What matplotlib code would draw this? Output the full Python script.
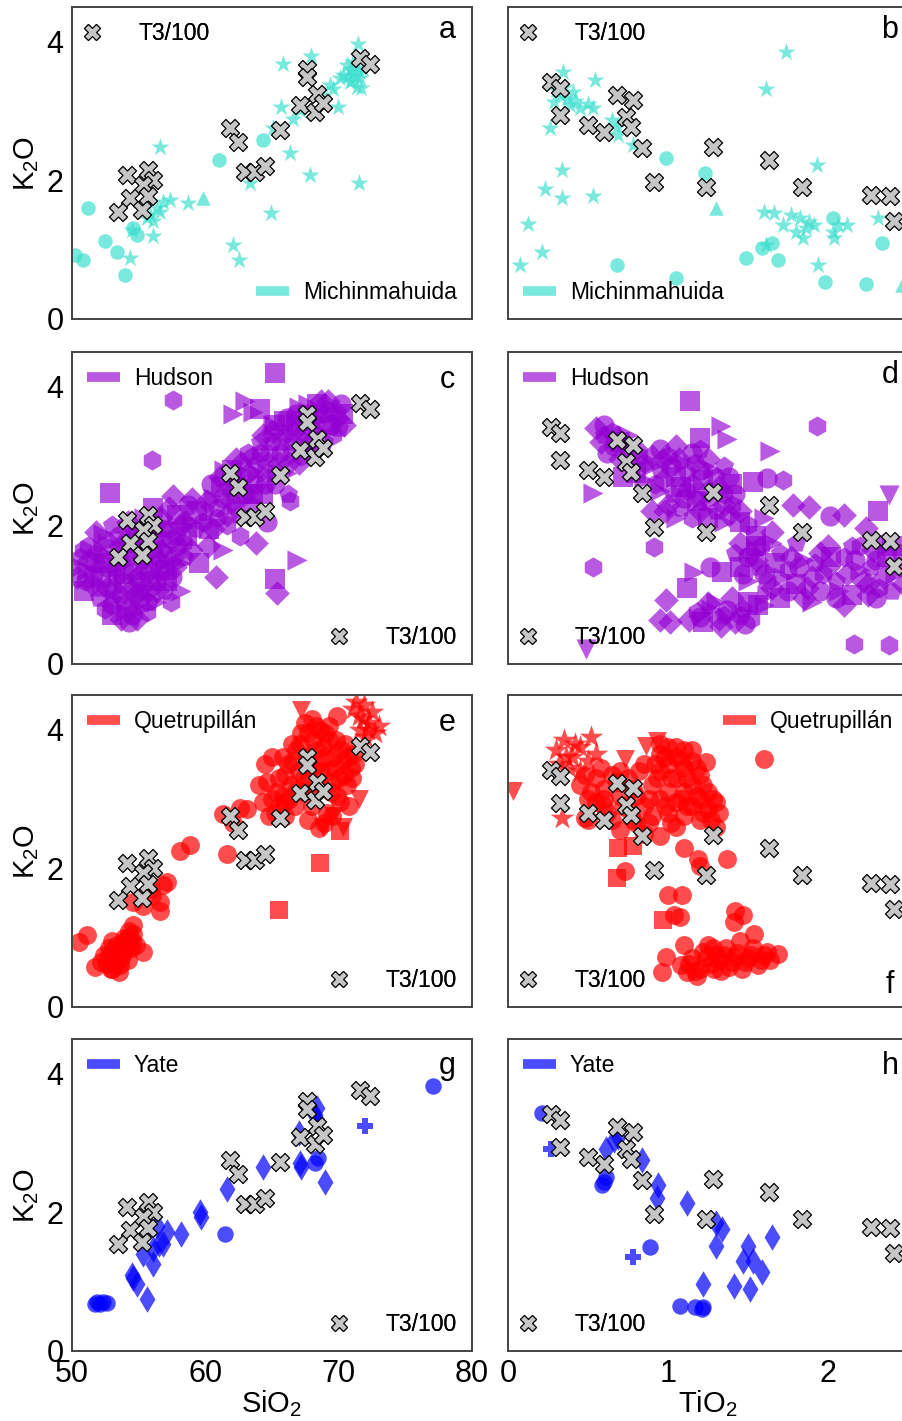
import numpy as np
import matplotlib.pyplot as plt
from matplotlib.lines import Line2D

plt.rcParams['font.family'] = ['Liberation Sans', 'DejaVu Sans']

# ---- T3/100 (gray X markers, repeated in every panel) ----
t3_sio2 = [54.1, 55.73, 56.1, 55.35, 54.35, 55.73, 53.48, 55.23, 61.85, 62.48, 62.98,
           63.73, 64.48, 65.6, 67.6, 67.6, 68.35, 67.1, 68.23, 68.85, 71.6, 72.35]
t3_k2o_si = [2.08, 2.15, 2.0, 1.93, 1.74, 1.77, 1.55, 1.57, 2.75, 2.56, 2.12,
             2.12, 2.2, 2.72, 3.61, 3.49, 3.25, 3.08, 2.99, 3.11, 3.76, 3.68]
t3_tio2 = [0.27, 0.325, 0.325, 0.50, 0.60, 0.68, 0.78, 0.74, 0.77, 0.835, 0.91,
           1.28, 1.24, 1.63, 1.835, 2.27, 2.39, 2.41]
t3_k2o_ti = [3.42, 3.33, 2.94, 2.80, 2.70, 3.23, 3.16, 2.92, 2.77, 2.46, 1.98,
             2.48, 1.91, 2.29, 1.91, 1.79, 1.77, 1.41]

# ---- Michinmahuida ----
mich_sio2 = [50.2, 50.85, 51.2, 52.5, 53.35, 54.0, 54.85, 54.6, 61.0, 64.35,
             59.85,
             56.6, 54.35, 56.1, 54.5, 55.85, 56.35, 56.85, 57.35, 56.1, 56.6,
             55.6, 58.7, 62.1, 62.55, 63.35, 64.95, 66.35, 67.85, 71.5, 65.7,
             65.1, 66.6, 65.85, 67.95, 69.95, 69.35, 70.1, 71.45, 70.6, 71.1,
             70.85, 71.6, 71.35, 71.85, 71.1, 70.35, 71.7, 69.6, 68.6, 67.1,
             70.9, 71.3, 71.0, 71.5, 70.7]
mich_k2o_si = [0.93, 0.85, 1.60, 1.12, 0.97, 0.64, 1.21, 1.31, 2.29, 2.58,
               1.75,
               2.48, 0.88, 1.19, 1.29, 1.50, 1.60, 1.69, 1.72, 1.41, 1.55,
               1.45, 1.67, 1.07, 0.85, 1.96, 1.53, 2.39, 2.08, 1.96, 3.06,
               2.75, 2.89, 3.68, 3.80, 3.06, 3.37, 3.47, 3.97, 3.66, 3.56,
               3.42, 3.47, 3.35, 3.61, 3.71, 3.52, 3.33, 3.32, 3.23, 3.01,
               3.60, 3.50, 3.45, 3.58, 3.50]
mich_mk_si = 'o' * 10 + '^' + '*' * 45

mich_tio2 = [0.99, 1.23, 0.68, 1.05, 1.49, 1.585, 1.65, 1.69, 1.98, 2.03, 2.24, 2.335,
             1.30, 2.46,
             0.346, 0.325, 0.367, 0.408, 0.388, 0.45, 0.29, 0.30, 0.35, 0.42,
             0.544, 0.533, 0.50, 0.68, 0.69, 0.648, 0.78, 0.26, 0.335, 0.23,
             0.335, 0.533, 0.127, 0.21, 0.075, 1.74, 1.61, 1.93, 1.60, 1.66,
             1.72, 1.77, 1.825, 1.86, 1.91, 1.845, 2.03, 2.04, 2.12, 1.94,
             2.31, 1.61, 1.88, 1.80, 2.06]
mich_k2o_ti = [2.32, 2.10, 0.78, 0.59, 0.88, 1.02, 1.09, 0.85, 0.54, 1.45, 0.50, 1.09,
               1.60, 0.49,
               3.56, 3.23, 3.18, 3.28, 3.08, 3.04, 3.13, 3.30, 3.35, 3.15,
               3.44, 3.04, 3.10, 2.77, 2.65, 2.87, 2.51, 2.75, 2.15, 1.88,
               1.74, 1.78, 1.37, 0.96, 0.78, 3.85, 3.32, 2.22, 1.55, 1.53,
               1.36, 1.50, 1.45, 1.31, 1.36, 1.17, 1.26, 1.17, 1.36, 0.78,
               1.45, 1.07, 1.40, 1.25, 1.35]
mich_mk_ti = 'o' * 12 + '^' * 2 + '*' * 45

# ---- Hudson (dense cloud + scattered outliers) ----
hud_sio2 = [50.4, 50.6, 50.9, 51.1, 51.2, 51.5, 51.7, 51.8, 52.0, 52.2, 52.3, 52.5, 52.6, 52.7,
            52.8, 53.0, 53.0, 53.2, 53.3, 53.4, 53.5, 53.7, 53.8, 53.9, 54.0, 54.1, 54.2, 54.3,
            54.4, 54.5, 54.6, 54.7, 54.8, 54.9, 55.0, 55.1, 55.2, 55.3, 55.4, 55.6, 55.7, 55.8,
            55.9, 56.0, 56.1, 56.3, 56.4, 56.5, 56.6, 56.7, 56.9, 57.0, 57.1, 57.2, 57.3, 57.5,
            57.6, 57.8, 57.9, 58.1, 58.3, 58.5, 58.7, 58.9, 59.2, 59.4,
            50.7, 51.0, 51.3, 51.6, 51.9, 52.1, 52.4, 52.6, 52.9, 53.1, 53.3, 53.6, 53.6, 53.9,
            54.0, 54.2, 54.3, 54.5, 54.7, 54.8, 54.9, 55.1, 55.2, 55.4, 55.5, 55.6, 55.8, 55.9,
            56.1, 56.2, 56.4, 56.6, 56.7, 56.9, 57.1, 57.3, 57.4, 57.7, 57.9, 58.1, 58.4, 58.6,
            58.9,
            59.8, 60.1, 60.4, 60.6, 60.9, 61.2, 61.4, 61.6, 61.9, 62.1, 62.3, 62.5, 62.8, 63.0,
            63.2, 63.4, 63.7, 63.9, 64.1, 64.3, 64.6, 64.8, 65.0, 65.2, 65.5, 65.7, 65.9, 66.1,
            66.4, 66.6, 66.8, 67.0, 67.3, 67.5, 67.7, 68.0, 68.2, 68.4, 68.7, 68.9, 69.1, 69.4,
            69.6, 69.9, 70.2, 70.4,
            60.0, 60.3, 60.6, 60.9, 61.1, 61.3, 61.6, 61.8, 62.0, 62.3, 62.5, 62.7, 63.0, 63.2,
            63.5, 63.6, 63.9, 64.1, 64.3, 64.5, 64.7, 65.0, 65.2, 65.4, 65.6, 65.9, 66.1, 66.3,
            66.5, 66.8, 67.0, 67.2, 67.4, 67.7, 67.9, 68.1, 68.4, 68.6, 68.9, 69.2, 69.4, 69.7,
            70.0, 70.3,
            61.3, 62.6, 63.8, 64.6, 60.2, 66.2, 59.5, 58.2, 57.4, 60.8]
hud_k2o_si = [1.25, 1.55, 1.05, 1.35, 1.7, 1.15, 1.45, 1.9, 0.95, 1.25, 1.6, 0.8, 1.1, 1.4,
              1.75, 2.0, 0.7, 0.95, 1.25, 1.55, 1.85, 0.65, 0.9, 1.15, 1.45, 1.75, 2.05, 0.6,
              0.85, 1.1, 1.35, 1.6, 1.9, 0.65, 0.95, 1.2, 1.5, 1.8, 2.1, 0.75, 1.05, 1.35,
              1.65, 1.95, 2.25, 0.9, 1.2, 1.5, 1.8, 2.1, 1.05, 1.35, 1.65, 1.95, 2.25, 1.25,
              1.55, 1.85, 2.15, 1.45, 1.75, 2.05, 2.3, 1.65, 1.95, 2.2,
              1.4, 1.2, 1.5, 1.3, 1.6, 1.1, 1.45, 1.75, 0.85, 1.1, 1.4, 1.7, 1.0, 1.3,
              0.75, 1.6, 1.9, 0.7, 1.0, 1.25, 1.75, 0.8, 1.05, 1.35, 1.65, 1.95, 0.9, 1.2,
              1.5, 1.8, 1.05, 1.35, 1.65, 1.95, 1.2, 1.5, 1.8, 1.4, 1.7, 2.0, 1.55, 1.85,
              2.05,
              2.05, 2.35, 2.6, 1.95, 2.25, 2.55, 2.8, 2.0, 2.35, 2.65, 2.95, 2.15, 2.45, 2.75,
              3.05, 2.3, 2.6, 2.9, 3.2, 2.45, 2.75, 3.05, 3.35, 2.6, 2.9, 3.2, 3.5, 2.75,
              3.05, 3.35, 3.6, 2.9, 3.2, 3.5, 3.75, 3.05, 3.35, 3.6, 3.8, 3.2, 3.45, 3.7,
              3.3, 3.55, 3.75, 3.45,
              2.2, 1.95, 2.4, 2.1, 2.7, 2.4, 2.15, 2.55, 2.8, 2.3, 2.6, 2.9, 2.45, 2.75,
              3.0, 2.45, 2.75, 3.05, 3.3, 2.6, 2.9, 3.2, 3.45, 2.75, 3.05, 3.3, 3.55, 2.9,
              3.2, 3.45, 3.7, 3.0, 3.35, 3.6, 3.2, 3.5, 3.75, 3.35, 3.6, 3.8, 3.45, 3.65,
              3.4, 3.6,
              1.65, 1.85, 1.75, 2.05, 1.7, 2.45, 1.45, 1.05, 0.9, 1.25]
hud_sio2_out = [52.85, 65.2, 64.1, 65.2, 56.0, 57.6, 66.35, 50.85,
                63.0, 63.6, 62.1, 65.1, 66.85, 52.35, 65.35, 57.6, 59.0]
hud_k2o_si_out = [2.46, 4.2, 3.68, 1.22, 2.94, 3.81, 2.35, 1.64,
                  3.79, 3.64, 3.6, 3.45, 1.5, 1.88, 1.03, 2.43, 2.38]
hud_mk_si_out = 'ssss' + 'hhhh' + '>>>>>>' + 'DDD'

hud_tio2 = [0.55, 0.6, 0.65, 0.7, 0.75, 0.8, 0.62, 0.7, 0.78, 0.85, 0.72, 0.85, 0.58, 0.66,
            0.9, 0.95, 1.0, 1.05, 1.1, 1.15, 1.2, 1.25, 1.3, 1.35, 1.4, 0.95, 1.0, 1.1,
            1.2, 1.3, 1.4, 1.45, 1.05, 0.9, 1.15, 1.25, 1.35, 0.92, 1.08, 1.22, 1.38,
            0.6, 0.68, 0.74, 0.82, 0.8, 0.9, 0.97, 1.02, 1.07, 1.12, 1.17, 1.22, 1.28, 1.32,
            1.38, 0.97, 1.03, 1.12, 1.18, 1.27, 1.35, 1.42, 0.98, 1.08, 1.15, 1.25, 1.35, 1.45,
            0.95, 1.05, 1.2,
            1.5, 1.55, 1.6, 1.45, 1.5, 1.65, 1.42, 1.58,
            1.45, 1.5, 1.55, 1.6, 1.65, 1.7, 1.75, 1.8, 1.85, 1.9, 1.95, 2.0, 2.05, 2.1,
            2.15, 2.2, 2.25, 2.3, 2.35, 2.4, 2.45, 1.7, 1.9, 2.1, 2.3, 2.0, 1.8, 2.2,
            2.4, 1.62, 2.28,
            1.47, 1.52, 1.57, 1.62, 1.67, 1.72, 1.77, 1.82, 1.87, 1.92, 1.97, 2.02, 2.07, 2.12,
            2.17, 2.22, 2.27, 2.32, 2.37, 2.42, 2.47, 1.75, 1.95, 2.15, 2.35, 1.55, 1.65, 1.85,
            2.05, 2.25, 2.45,
            1.18, 1.22, 1.27, 1.32, 1.37, 1.42, 1.47, 1.52, 1.56, 1.3, 1.4,
            1.2, 1.25, 1.35, 1.45, 1.5, 1.6, 1.33, 1.48]
hud_k2o_ti = [3.4, 3.3, 3.35, 3.2, 3.3, 3.1, 3.05, 2.95, 2.85, 2.9, 2.7, 2.65, 3.2, 3.15,
              3.0, 2.8, 3.0, 2.7, 2.9, 2.6, 2.8, 2.5, 2.7, 2.45, 2.6, 2.5, 2.3, 2.4,
              2.2, 2.2, 2.3, 2.05, 2.1, 2.2, 3.05, 2.95, 2.85, 2.6, 2.55, 2.4, 2.15,
              3.45, 3.28, 3.12, 3.0, 2.75, 2.85, 2.95, 2.85, 2.95, 2.75, 2.9, 2.65, 2.8, 2.55,
              2.7, 2.65, 2.45, 2.5, 2.35, 2.35, 2.3, 2.45, 2.2, 2.25, 2.1, 2.1, 2.05, 2.2,
              3.1, 3.15, 3.1,
              2.0, 1.85, 2.1, 1.75, 1.55, 1.9, 1.6, 1.7,
              1.4, 1.2, 1.5, 1.3, 1.1, 1.6, 1.35, 1.15, 1.5, 1.25, 1.05, 1.4, 1.2, 1.55,
              1.0, 1.35, 1.15, 1.5, 1.25, 1.05, 1.4, 0.95, 0.9, 0.85, 0.95, 1.7, 1.75, 1.7,
              1.7, 1.0, 1.65,
              1.3, 1.6, 1.4, 1.2, 1.45, 1.25, 1.55, 1.4, 1.1, 1.45, 1.3, 1.55, 1.05, 1.3,
              1.5, 1.2, 1.4, 1.1, 1.55, 1.3, 1.15, 1.05, 1.6, 1.7, 1.75, 1.7, 1.75, 0.95,
              0.95, 1.0, 1.6,
              0.75, 0.6, 0.8, 0.65, 0.78, 0.6, 0.8, 0.65, 0.85, 0.9, 0.95,
              0.68, 0.88, 0.7, 0.7, 0.9, 0.85, 0.55, 0.58]
hud_tio2_out = [1.14, 1.2, 1.53, 2.31, 1.34, 1.12,
                1.93, 1.72, 0.91, 0.53, 2.16, 2.38,
                1.33, 1.37, 1.64, 0.53, 1.16,
                2.38, 0.49,
                1.78, 1.88, 2.1, 2.24, 0.99, 0.95, 1.01, 1.13,
                1.62, 1.26, 2.01]
hud_k2o_ti_out = [3.79, 3.26, 2.63, 2.2, 1.33, 1.09,
                  3.43, 2.66, 1.69, 1.40, 0.29, 0.27,
                  3.43, 3.24, 3.07, 2.46, 1.33,
                  2.44, 0.22,
                  2.29, 2.27, 2.15, 1.96, 0.92, 0.63, 0.60, 0.63,
                  2.68, 1.4, 2.13]
hud_mk_ti_out = 's' * 6 + 'h' * 6 + '>' * 5 + 'v' * 2 + 'D' * 8 + 'o' * 3

# ---- Quetrupillan ----
que_sio2 = [50.5, 51.1, 51.7, 52.4, 52.6, 52.8, 53.0, 53.2, 53.4, 53.6, 53.8, 54.0, 54.2,
            54.4, 54.6, 54.8, 54.6, 55.35, 53.9, 54.3, 52.9, 53.5,
            52.2, 52.7, 53.1, 53.3, 53.7, 54.1, 54.5, 53.8, 54.2, 53.0,
            54.6, 55.35, 56.6, 56.6, 57.1, 56.85, 56.0, 55.9,
            58.1, 58.85, 61.6, 61.35, 62.6, 63.1, 62.1,
            64.0, 64.3, 64.6, 65.0, 65.2, 65.5, 65.8, 66.0, 66.2, 66.4, 66.7, 66.8, 67.0,
            67.2, 67.3, 67.5, 67.6, 67.8, 68.0, 68.1, 68.3, 68.4, 68.6, 68.8, 69.0, 69.1,
            69.2, 69.4, 69.6, 69.8, 70.0, 70.1, 70.3, 70.5, 70.6, 70.9, 71.1, 69.85, 68.5,
            67.7, 68.9, 66.5, 65.8, 69.5, 70.8,
            64.5, 65.0, 65.3, 65.6, 66.0, 66.3, 66.6, 66.9, 67.1, 67.4, 67.7, 67.9, 68.2,
            68.3, 68.6, 68.7, 69.0, 69.3, 69.5, 69.7, 69.9, 70.2, 70.4, 70.7, 71.0, 71.2,
            66.0, 64.8, 68.0, 69.3]
que_k2o_si = [0.94, 1.04, 0.58, 0.75, 0.62, 0.85, 0.55, 0.72, 0.9, 0.6, 0.78, 0.95, 0.68,
              0.85, 1.05, 0.9, 1.18, 0.8, 1.0, 1.1, 0.55, 0.5,
              0.65, 0.72, 0.82, 0.62, 0.7, 0.85, 0.95, 0.9, 1.0, 0.95,
              1.52, 1.45, 1.52, 1.38, 1.81, 1.76, 1.6, 1.7,
              2.25, 2.34, 2.2, 2.78, 2.87, 2.85, 2.65,
              3.2, 2.95, 3.25, 3.0, 2.8, 3.3, 3.05, 2.75, 3.5, 3.2, 2.9, 3.7, 3.4,
              3.95, 3.1, 4.1, 3.6, 3.3, 2.9, 3.85, 4.05, 3.5, 3.2, 3.75, 3.95, 2.8,
              3.4, 3.1, 3.6, 3.85, 3.3, 2.95, 3.55, 3.8, 3.2, 3.45, 3.65, 4.2, 2.58,
              2.7, 2.65, 3.8, 3.6, 2.75, 2.9,
              3.5, 3.6, 3.1, 2.9, 3.35, 3.0, 3.55, 3.15, 3.8, 3.3, 3.95, 3.45, 3.1,
              3.7, 4.0, 3.4, 3.6, 3.85, 3.25, 3.45, 3.05, 3.7, 3.35, 3.6, 3.3, 3.5,
              2.95, 2.75, 4.15, 4.05]
que_sio2_out = [65.5, 68.6, 70.1,
                71.1, 71.5, 71.9, 72.3, 72.7, 72.0, 71.6, 72.5, 73.0, 71.3, 71.8, 72.2,
                67.2, 71.5, 69.6, 70.3, 68.8]
que_k2o_si_out = [1.40, 2.08, 2.54,
                  4.3, 4.2, 4.35, 4.1, 3.95, 3.9, 4.0, 4.25, 4.05, 4.4, 4.15, 4.0,
                  4.28, 3.0, 2.75, 2.6, 2.6]
que_mk_si_out = 'sss' + '*' * 12 + 'v' * 5

que_tio2 = [0.45, 0.5, 0.55, 0.6, 0.6, 0.65, 0.65, 0.7, 0.7, 0.75, 0.75, 0.8, 0.8, 0.85,
            0.85, 0.9, 0.9, 0.95, 0.95, 0.95, 1.0, 1.0, 1.0, 1.0, 1.05, 1.05, 1.05, 1.1,
            1.1, 1.1, 1.1, 1.15, 1.15, 1.15, 1.2, 1.2, 1.2, 1.25, 1.25, 1.3, 1.3, 1.24,
            0.55, 0.5, 0.85, 1.05,
            0.48, 0.52, 0.58, 0.62, 0.68, 0.72, 0.78, 0.78, 0.82, 0.88, 0.88, 0.92, 0.93,
            0.98, 0.98, 1.02, 1.02, 1.08, 1.08, 1.12, 1.12, 1.18, 1.18, 1.22, 1.22, 1.28,
            1.27, 1.32, 0.6, 0.7, 0.95, 1.05, 1.15,
            1.6, 1.37, 0.95, 1.1, 1.19, 1.2, 0.73, 1.0, 1.09, 1.04, 1.075, 1.42, 1.41,
            1.47, 1.54, 0.99, 1.1, 0.96, 1.69, 0.48,
            1.08, 1.12, 1.15, 1.2, 1.22, 1.27, 1.3, 1.33, 1.36, 1.4, 1.43, 1.46, 1.5,
            1.53, 1.56, 1.6, 1.64, 1.25, 1.45, 1.18,
            1.13, 1.17, 1.24, 1.29, 1.32, 1.38, 1.41, 1.48, 1.52, 1.58, 1.62, 1.35, 1.28]
que_k2o_ti = [3.2, 3.0, 3.3, 2.9, 3.15, 2.7, 3.35, 3.05, 2.55, 2.85, 3.3, 3.05, 2.65, 3.5,
              2.9, 3.2, 2.75, 3.65, 3.4, 3.0, 3.75, 3.5, 3.1, 2.8, 3.6, 3.3, 2.95, 3.7,
              3.45, 3.1, 2.75, 3.55, 3.2, 2.9, 3.35, 3.0, 2.7, 3.1, 2.85, 2.95, 2.6, 3.53,
              2.95, 2.7, 2.5, 2.6,
              3.35, 3.1, 3.45, 2.8, 3.25, 2.9, 3.15, 2.7, 3.4, 3.0, 2.65, 3.5, 3.3,
              3.6, 2.9, 3.3, 2.65, 3.55, 3.0, 3.3, 2.9, 3.45, 3.05, 3.2, 2.8, 3.0,
              2.7, 2.8, 3.0, 3.4, 3.8, 3.75, 3.7,
              3.57, 2.13, 2.46, 2.29, 2.13, 2.03, 1.96, 1.62, 1.62, 1.33, 1.30, 1.38, 1.23,
              1.33, 1.06, 0.72, 0.89, 0.51, 0.76, 2.73,
              0.6, 0.5, 0.7, 0.55, 0.8, 0.62, 0.75, 0.52, 0.85, 0.65, 0.78, 0.55, 0.7,
              0.85, 0.6, 0.75, 0.68, 0.9, 0.95, 0.45,
              0.62, 0.52, 0.7, 0.55, 0.68, 0.58, 0.72, 0.65, 0.75, 0.68, 0.8, 0.75, 0.85]
que_tio2_out = [0.30, 0.35, 0.40, 0.45, 0.50, 0.38, 0.55, 0.32, 0.45, 0.52, 0.42, 0.36, 0.335,
                0.03, 0.73, 0.86, 0.93,
                0.69, 0.68, 0.78, 0.97]
que_k2o_ti_out = [3.7, 3.85, 3.6, 3.75, 3.55, 3.45, 3.65, 3.5, 3.4, 3.9, 3.8, 3.6, 2.73,
                  3.12, 3.57, 3.77, 3.84,
                  2.29, 1.86, 2.32, 1.26]
que_mk_ti_out = '*' * 13 + 'v' * 4 + 's' * 4

# ---- Yate ----
yate_sio2 = [51.7, 51.9, 52.1, 52.3, 52.6,
             54.5, 54.6, 54.85, 55.6, 55.35, 56.1, 56.1, 56.5, 56.85, 57.1, 58.2, 56.35,
             59.6, 59.7, 61.6, 64.35, 67.1, 67.2, 68.95, 68.2, 68.35, 67.0, 68.4,
             61.5, 68.2, 68.45, 77.1,
             71.98]
yate_k2o_si = [0.68, 0.70, 0.68, 0.70, 0.69,
               1.09, 1.06, 0.97, 0.75, 1.40, 1.26, 1.47, 1.55, 1.55, 1.72, 1.69, 1.81,
               2.0, 1.93, 2.34, 2.66, 2.71, 2.66, 2.44, 3.41, 3.33, 3.14, 3.5,
               1.69, 2.71, 2.78, 3.82,
               3.24]
yate_mk_si = 'o' * 5 + 'd' * 23 + 'o' * 4 + 'P'

yate_tio2 = [0.21, 0.27,
             0.61, 0.66, 0.69, 0.835, 0.94, 0.93, 1.12, 1.30, 1.335, 1.30, 1.50, 1.47,
             1.53, 1.585, 1.65, 1.41, 1.51, 1.22,
             0.60, 0.61, 0.59, 0.89, 1.075, 1.17, 1.22, 1.21,
             0.78]
yate_k2o_ti = [3.43, 2.92,
               2.92, 3.04, 3.09, 2.75, 2.39, 2.20, 2.13, 1.84, 1.76, 1.52, 1.52, 1.30,
               1.30, 1.14, 1.64, 0.94, 0.89, 0.97,
               2.44, 2.51, 2.40, 1.50, 0.65, 0.63, 0.63, 0.60,
               1.35]
yate_mk_ti = 'oP' + 'd' * 18 + 'o' * 8 + 'P'

SIZE = {'*': 1.7, 'D': 0.75, 'd': 1.3, 'P': 0.9, 's': 0.9, 'o': 1.0,
        'h': 1.0, 'p': 1.0, '>': 1.0, '^': 1.0, 'v': 1.0}


def draw(ax, x, y, markers, color, alpha, base):
    x = np.asarray(x, float)
    y = np.asarray(y, float)
    mk = np.array([markers[i % len(markers)] for i in range(len(x))])
    for m in dict.fromkeys(mk):
        sel = mk == m
        ax.scatter(x[sel], y[sel], marker=m, s=base * SIZE.get(m, 1.0), color=color,
                   alpha=alpha, linewidths=0, zorder=2)


def add_legend(ax, handle, loc, hl, pad):
    leg = ax.legend(handles=[handle], loc=loc, frameon=False, fontsize=16.5,
                    handlelength=hl, handletextpad=pad, borderaxespad=0.25)
    ax.add_artist(leg)


W, H = 902, 1421
fig = plt.figure(figsize=(W / 100, H / 100), dpi=100)
tops = [7, 352, 695, 1039]
ph, pw = 312, 400
axes = []
for r, top in enumerate(tops):
    axl = fig.add_axes([72 / W, 1 - (top + ph) / H, pw / W, ph / H])
    axr = fig.add_axes([508 / W, 1 - (top + ph) / H, pw / W, ph / H])
    axes.append((axl, axr))

# name, colour, alpha, marker size, (left data), (left extras), (right data), (right extras)
rows = [
    ('Michinmahuida', 'turquoise', 0.7, 110,
     (mich_sio2, mich_k2o_si, mich_mk_si), None,
     (mich_tio2, mich_k2o_ti, mich_mk_ti), None),
    ('Hudson', '#9400D3', 0.65, 210,
     (hud_sio2, hud_k2o_si, 'Dps>hDo'), (hud_sio2_out, hud_k2o_si_out, hud_mk_si_out),
     (hud_tio2, hud_k2o_ti, 'Dphs>Do'), (hud_tio2_out, hud_k2o_ti_out, hud_mk_ti_out)),
    ('Quetrupillán', 'red', 0.7, 185,
     (que_sio2, que_k2o_si, 'o'), (que_sio2_out, que_k2o_si_out, que_mk_si_out),
     (que_tio2, que_k2o_ti, 'o'), (que_tio2_out, que_k2o_ti_out, que_mk_ti_out)),
    ('Yate', 'blue', 0.7, 140,
     (yate_sio2, yate_k2o_si, yate_mk_si), None,
     (yate_tio2, yate_k2o_ti, yate_mk_ti), None),
]

letters = [('a', 'b'), ('c', 'd'), ('e', 'f'), ('g', 'h')]
letter_y = [(0.925, 0.925), (0.91, 0.925), (0.91, 0.07), (0.915, 0.915)]
leg_left = [('lower right', 'upper left'), ('upper left', 'lower right'),
            ('upper left', 'lower right'), ('upper left', 'lower right')]
leg_right = [('lower left', 'upper left'), ('upper left', 'lower left'),
             ('upper right', 'lower left'), ('upper left', 'lower left')]

for r, (name, color, alpha, base, left, left_out, right, right_out) in enumerate(rows):
    axl, axr = axes[r]
    for ax, main, extra, t3x, t3y in ((axl, left, left_out, t3_sio2, t3_k2o_si),
                                      (axr, right, right_out, t3_tio2, t3_k2o_ti)):
        draw(ax, main[0], main[1], main[2], color, alpha, base)
        if extra is not None:
            draw(ax, extra[0], extra[1], extra[2], color, alpha, base)
        ax.scatter(t3x, t3y, marker='X', s=170, facecolor='#c6c6c6',
                   edgecolor='black', linewidths=0.9, zorder=5)
        ax.set_ylim(0, 4.5)
        ax.set_yticks([0, 2, 4])
        ax.tick_params(length=0, labelsize=22, pad=6)
        for sp in ax.spines.values():
            sp.set_color('#444444')
            sp.set_linewidth(1.4)

    axl.set_xlim(50, 80)
    axl.set_xticks([50, 60, 70, 80])
    axr.set_xlim(0, 2.5)
    axr.set_xticks([0, 1, 2])
    axr.set_yticklabels([])
    axl.set_ylabel(r'K$_\mathregular{2}$O', fontsize=21)
    axl.yaxis.set_label_coords(-0.078, 0.5)
    if r < 3:
        axl.set_xticklabels([])
        axr.set_xticklabels([])
    else:
        axl.set_xlabel(r'SiO$_\mathregular{2}$', fontsize=21)
        axr.set_xlabel(r'TiO$_\mathregular{2}$', fontsize=21)
        axl.xaxis.set_label_coords(0.5, -0.12)
        axr.xaxis.set_label_coords(0.5, -0.12)

    t3h = Line2D([], [], marker='X', ls='none', mfc='#c6c6c6', mec='black',
                 mew=0.8, ms=11.5, label='T3/100')
    vh = Line2D([], [], color=color, alpha=alpha, lw=7, solid_capstyle='butt', label=name)
    for ax, (vloc, tloc) in ((axl, leg_left[r]), (axr, leg_right[r])):
        add_legend(ax, vh, vloc, 1.45, 0.6)
        add_legend(ax, t3h, tloc, 0.45, 1.8)

    axl.text(0.9375, letter_y[r][0], letters[r][0], transform=axl.transAxes,
             fontsize=22, ha='center', va='center')
    axr.text(0.955, letter_y[r][1], letters[r][1], transform=axr.transAxes,
             fontsize=22, ha='center', va='center')

fig.savefig('out.png', dpi=100)
